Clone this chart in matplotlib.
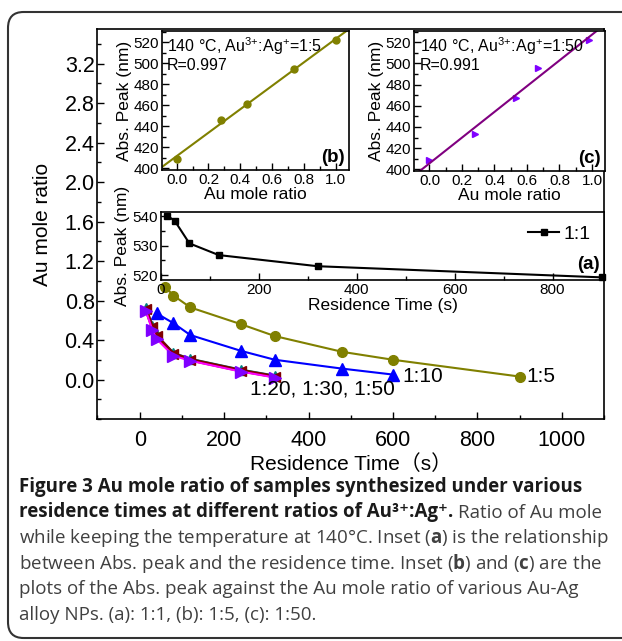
import numpy as np
import matplotlib
matplotlib.use("Agg")
import matplotlib.pyplot as plt
from matplotlib.patches import FancyBboxPatch
from matplotlib.ticker import MultipleLocator, FormatStrFormatter

plt.rcParams["font.family"] = ["Liberation Sans", "DejaVu Sans"]
plt.rcParams["mathtext.fontset"] = "custom"
plt.rcParams["mathtext.rm"] = "Open Sans"
plt.rcParams["mathtext.bf"] = "Open Sans:bold"
plt.rcParams["mathtext.default"] = "regular"

# main plot: Au mole ratio against residence time (s)
t_15 = [60, 80, 120, 240, 320, 480, 600, 900]
r_15 = [0.94, 0.85, 0.73, 0.56, 0.44, 0.28, 0.20, 0.03]
t_110 = [40, 80, 120, 240, 320, 480, 600]
r_110 = [0.67, 0.57, 0.45, 0.29, 0.20, 0.11, 0.05]
t_small = [15, 30, 40, 80, 120, 240, 320]
r_120 = [0.72, 0.54, 0.45, 0.27, 0.21, 0.10, 0.04]
r_130 = [0.71, 0.53, 0.44, 0.26, 0.20, 0.09, 0.03]
r_150 = [0.69, 0.50, 0.41, 0.24, 0.19, 0.08, 0.02]
yticks_main = [0.0, 0.4, 0.8, 1.2, 1.6, 2.0, 2.4, 2.8, 3.2]

# inset (a): Abs. peak against residence time, 1:1
t_a = [12, 28, 58, 118, 320, 900]
peak_a = [540.3, 538.5, 530.8, 526.8, 523.0, 519.2]

# inset (b): Abs. peak against Au mole ratio, 1:5
x_b = [0.0, 0.28, 0.44, 0.74, 1.0]
peak_b = [409, 446, 461, 494, 522]

# inset (c): Abs. peak against Au mole ratio, 1:50
x_c = [0.0, 0.28, 0.53, 0.67, 0.98]
peak_c = [409, 433, 467, 496, 522]

W, H = 622, 641


def box(l, t, r, b):
    # pixel box (from top-left) -> figure fraction rect
    return [l / W, 1 - b / H, (r - l) / W, (b - t) / H]


def style(ax, size):
    ax.tick_params(which="both", direction="in", top=False, right=False,
                   labelsize=size, width=1, pad=2)
    ax.tick_params(which="major", length=5)
    ax.tick_params(which="minor", length=3)
    for s in ax.spines.values():
        s.set_linewidth(1.2)


fig = plt.figure(figsize=(W / 100, H / 100), dpi=100)

# rounded frame around the figure + caption
frame = FancyBboxPatch((8 / W, 1 - 638 / H), 640 / W, 626 / H,
                       boxstyle="round,pad=0,rounding_size=0.025",
                       transform=fig.transFigure, fill=False,
                       edgecolor="#333333", linewidth=1.5)
fig.patches.append(frame)

ax = fig.add_axes(box(97.5, 29, 604, 419))
ax.plot(t_15, r_15, "-o", color="#808000", ms=7, lw=1.5)
ax.plot(t_110, r_110, "-^", color="#0000FF", ms=8, lw=1.5)
ax.plot(t_small, r_120, "-^", color="#008080", ms=7, lw=1.5)
ax.plot(t_small, r_130, "-<", color="#800000", ms=7, lw=2.5)
ax.plot(t_small, r_150, "->", color="#FF00FF", mfc="#8000FF", mec="#8000FF", ms=8, lw=1.5)
ax.set_xlim(-100, 1100)
ax.set_ylim(-0.4, 3.55)
ax.xaxis.set_major_locator(MultipleLocator(200))
ax.xaxis.set_minor_locator(MultipleLocator(100))
ax.set_yticks(yticks_main)
ax.yaxis.set_minor_locator(MultipleLocator(0.2))
ax.yaxis.set_major_formatter(FormatStrFormatter("%.1f"))
style(ax, 15.5)
ax.tick_params(axis="x", pad=8)
ax.set_xlabel("Residence Time（s）", fontsize=15, labelpad=2,
              family=["Liberation Sans", "Noto Sans CJK SC"])
ax.set_ylabel("Au mole ratio", fontsize=15, labelpad=9)
ax.text(262, -0.1, "1:20, 1:30, 1:50", fontsize=15, va="center")
ax.text(622, 0.03, "1:10", fontsize=15, va="center")
ax.text(917, 0.03, "1:5", fontsize=15, va="center")

# inset (a)
axa = fig.add_axes(box(161, 212, 604, 280))
axa.plot(t_a, peak_a, "-s", color="black", ms=5, lw=1.5, label="1:1", clip_on=False)
axa.set_xlim(0, 905)
axa.set_ylim(518.3, 541.5)
axa.xaxis.set_major_locator(MultipleLocator(200))
axa.xaxis.set_minor_locator(MultipleLocator(100))
axa.yaxis.set_major_locator(MultipleLocator(10))
axa.yaxis.set_minor_locator(MultipleLocator(5))
style(axa, 11)
axa.set_xlabel("Residence Time (s)", fontsize=12.5, labelpad=1)
axa.set_ylabel("Abs. Peak (nm)", fontsize=12.5, labelpad=2)
axa.legend(loc="upper right", fontsize=14, frameon=False, handlelength=1.6,
           handletextpad=0.2, borderaxespad=0.3)
axa.text(0.99, 0.1, "(a)", transform=axa.transAxes, ha="right", va="bottom",
         fontsize=13.5, fontweight="bold")

# inset (b)
axb = fig.add_axes(box(161.5, 31, 348.5, 170))
axb.plot(x_b, peak_b, "o", color="#808000", ms=5)
xf = np.array([-0.1, 1.1])
kb = np.polyfit(x_b, peak_b, 1)
axb.plot(xf, np.polyval(kb, xf), color="#808000", lw=1.5)
axb.set_xlim(-0.095, 1.08)
axb.set_ylim(398.4, 530.5)
axb.text(0.03, 0.97, "140 °C, Au$^{3{+}}$:Ag$^{{+}}$=1:5\nR=0.997", transform=axb.transAxes,
         ha="left", va="top", fontsize=11.5, linespacing=1.1)
axb.text(0.98, 0.03, "(b)", transform=axb.transAxes, ha="right", va="bottom",
         fontsize=13.5, fontweight="bold")

# inset (c)
axc = fig.add_axes(box(414, 31, 605, 171))
axc.plot(x_c, peak_c, ">", color="#8000FF", ms=5)
kc = np.polyfit(x_c, peak_c, 1)
axc.plot(xf, np.polyval(kc, xf), color="#800080", lw=1.5)
axc.set_xlim(-0.095, 1.08)
axc.set_ylim(398.5, 530.5)
axc.text(0.03, 0.97, "140 °C, Au$^{3{+}}$:Ag$^{{+}}$=1:50\nR=0.991", transform=axc.transAxes,
         ha="left", va="top", fontsize=11.5, linespacing=1.1)
axc.text(0.98, 0.03, "(c)", transform=axc.transAxes, ha="right", va="bottom",
         fontsize=13.5, fontweight="bold")

for a in (axb, axc):
    a.xaxis.set_major_locator(MultipleLocator(0.2))
    a.xaxis.set_minor_locator(MultipleLocator(0.1))
    a.yaxis.set_major_locator(MultipleLocator(20))
    a.yaxis.set_minor_locator(MultipleLocator(10))
    a.xaxis.set_major_formatter(FormatStrFormatter("%.1f"))
    style(a, 11)
    a.set_xlabel("Au mole ratio", fontsize=12.5, labelpad=0)
    a.set_ylabel("Abs. Peak (nm)", fontsize=12.5, labelpad=1)

# caption
cap_font = ["Open Sans", "DejaVu Sans"]
cap_size = 13.5
bold_c, reg_c = "#1a1a1a", "#404040"
y0, dy = 487, 25.5


def ypos(i):
    return 1 - (y0 + i * dy) / H


fig.text(19 / W, ypos(0), "Figure 3 Au mole ratio of samples synthesized under various",
         fontsize=cap_size, fontweight="bold", family=cap_font, va="center", color=bold_c)
t2 = fig.text(19 / W, ypos(1), "residence times at different ratios of Au³⁺:Ag⁺.",
              fontsize=cap_size, fontweight="bold", family=cap_font, va="center", color=bold_c)
fig.canvas.draw()
x_end = t2.get_window_extent().x1
fig.text((x_end + 5) / W, ypos(1), "Ratio of Au mole", fontsize=cap_size,
         family=cap_font, va="center", color=reg_c)
rest = [
    r"while keeping the temperature at 140°C. Inset ($\mathbf{a}$) is the relationship",
    r"between Abs. peak and the residence time. Inset ($\mathbf{b}$) and ($\mathbf{c}$) are the",
    r"plots of the Abs. peak against the Au mole ratio of various Au-Ag",
    r"alloy NPs. (a): 1:1, (b): 1:5, (c): 1:50.",
]
for i, line in enumerate(rest):
    fig.text(19 / W, ypos(i + 2), line, fontsize=cap_size, family=cap_font,
             va="center", color=reg_c)

fig.savefig("out.png", dpi=100)
